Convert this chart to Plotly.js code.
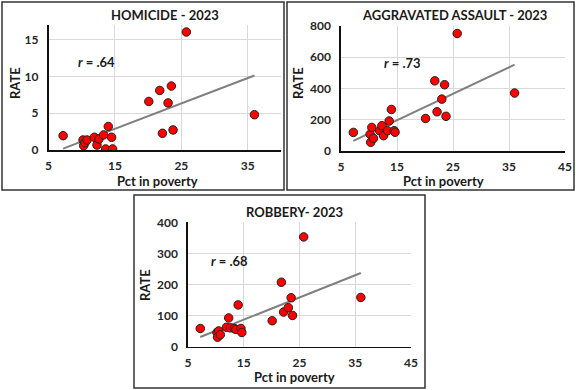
<!DOCTYPE html>
<html><head><meta charset="utf-8">
<script src="https://cdn.plot.ly/plotly-3.0.1.min.js"></script>
<style>html,body{margin:0;padding:0;background:#fff}#c{width:576px;height:390px}</style>
</head><body><div id="c"></div>
<script>
// Percent in poverty (shared by all three panels)
const poverty   = [7.2, 10.2, 10.3, 10.5, 10.8, 11.9, 12.3, 12.6, 13.3, 13.6, 14.0, 14.5, 14.65, 20.1, 21.75, 22.15, 23.0, 23.5, 23.75, 25.75, 36.0];
const homicide  = [1.95, 1.36, 0.59, 1.0, 1.36, 1.73, 0.68, 1.5, 2.05, 0.14, 3.2, 1.73, 0.14, 6.6, 8.1, 2.27, 6.4, 8.7, 2.73, 16.05, 4.8];
const aggAssault= [119, 107, 56, 151, 81, 130, 162, 98, 130, 192, 266, 130, 120, 208, 449, 251, 332, 424, 222, 752, 371];
const robbery   = [58, 45, 30, 50, 38, 62, 92, 60, 58, 55, 134, 58, 45, 83, 207, 111, 125, 157, 100, 353, 158];
const titles = ["HOMICIDE - 2023", "AGGRAVATED ASSAULT - 2023", "ROBBERY- 2023"];
const rLabels = [".64", ".73", ".68"];

const W = 576, H = 390;
const px = v => v / W, py = v => 1 - v / H;

function fit(x, y) {
  const n = x.length;
  const mx = x.reduce((a, b) => a + b, 0) / n, my = y.reduce((a, b) => a + b, 0) / n;
  let sxy = 0, sxx = 0;
  for (let i = 0; i < n; i++) { sxy += (x[i] - mx) * (y[i] - my); sxx += (x[i] - mx) ** 2; }
  const b = sxy / sxx, a = my - b * mx;
  const x0 = Math.min(...x), x1 = Math.max(...x);
  return { x: [x0, x1], y: [a + b * x0, a + b * x1] };
}

const series = [homicide, aggAssault, robbery];
const traces = [];
series.forEach((s, i) => {
  const xa = i === 0 ? 'x' : 'x' + (i + 1), ya = i === 0 ? 'y' : 'y' + (i + 1);
  const f = fit(poverty, s);
  traces.push({ x: f.x, y: f.y, xaxis: xa, yaxis: ya, mode: 'lines', type: 'scatter',
    line: { color: '#7f7f7f', width: 2 }, hoverinfo: 'skip', showlegend: false });
  traces.push({ x: poverty, y: s, xaxis: xa, yaxis: ya, mode: 'markers', type: 'scatter',
    marker: { color: '#ff0000', size: 8.5, line: { color: '#222', width: 1 } }, showlegend: false });
});

const fnt = { family: 'Lato, "Open Sans", sans-serif', size: 12, color: '#262626' };
function xax(domain, range) {
  return { domain, range, tick0: 5, dtick: 10, showgrid: true, gridcolor: '#d9d9d9', gridwidth: 1,
    showline: true, linecolor: '#111', linewidth: 1.6, zeroline: false, ticks: '',
    tickfont: Object.assign({}, fnt, { weight: 'bold' }), ticklabelstandoff: 4, fixedrange: true };
}
function yax(domain, range, dtick, anchor) {
  return { domain, range, tick0: 0, dtick, anchor, showgrid: true, gridcolor: '#d9d9d9', gridwidth: 1,
    showline: true, linecolor: '#111', linewidth: 1.6, zeroline: false, ticks: '',
    tickfont: Object.assign({}, fnt, { weight: 'bold' }), ticklabelstandoff: 6, fixedrange: true };
}

const layout = {
  width: W, height: H, margin: { l: 0, r: 0, t: 0, b: 0 },
  paper_bgcolor: '#fff', plot_bgcolor: '#fff', showlegend: false,
  xaxis:  Object.assign(xax([px(48.5), px(281)], [5, 40]), { anchor: 'y' }),
  yaxis:  yax([py(150), py(25)], [0, 17], 5, 'x'),
  xaxis2: Object.assign(xax([px(341), px(565)], [5, 45]), { anchor: 'y2' }),
  yaxis2: yax([py(151), py(26)], [0, 800], 200, 'x2'),
  xaxis3: Object.assign(xax([px(188), px(411)], [5, 45]), { anchor: 'y3' }),
  yaxis3: yax([py(346.5), py(222.3)], [0, 400], 100, 'x3'),
  shapes: [
    { type: 'rect', xref: 'paper', yref: 'paper', x0: px(2), x1: px(284), y0: py(190), y1: py(2), line: { color: '#333', width: 1.5 } },
    { type: 'rect', xref: 'paper', yref: 'paper', x0: px(287), x1: px(574), y0: py(190), y1: py(2), line: { color: '#333', width: 1.5 } },
    { type: 'rect', xref: 'paper', yref: 'paper', x0: px(134), x1: px(425), y0: py(388), y1: py(195), line: { color: '#333', width: 1.5 } }
  ],
  annotations: []
};

const titleFont = Object.assign({}, fnt, { size: 13, weight: 'bold', color: '#1a1a1a' });
const axFont = Object.assign({}, fnt, { size: 13, weight: 'bold', color: '#1a1a1a' });
const titlePos = [[165, 15], [454, 15], [294, 212]];
const xtPos = [[157, 181], [443, 181], [294, 377]];
const ytPos = [[15, 83], [298, 83], [145, 285]];
titlePos.forEach((p, i) => {
  layout.annotations.push({ xref: 'paper', yref: 'paper', x: px(p[0]), y: py(p[1]), text: titles[i], showarrow: false, font: titleFont, xanchor: 'center', yanchor: 'middle' });
  layout.annotations.push({ xref: 'paper', yref: 'paper', x: px(xtPos[i][0]), y: py(xtPos[i][1]), text: 'Pct in poverty', showarrow: false, font: axFont, xanchor: 'center', yanchor: 'middle' });
  layout.annotations.push({ xref: 'paper', yref: 'paper', x: px(ytPos[i][0]), y: py(ytPos[i][1]), text: 'RATE', textangle: -90, showarrow: false, font: axFont, xanchor: 'center', yanchor: 'middle' });
});
const rPos = [['x', 'y', 12.3, 12.0], ['x2', 'y2', 16.0, 560], ['x3', 'y3', 12.5, 276]];
rPos.forEach((p, i) => {
  layout.annotations.push({ xref: p[0], yref: p[1], x: p[2], y: p[3], text: '<i>r</i> = ' + rLabels[i], showarrow: false,
    font: Object.assign({}, fnt, { size: 13, weight: 'bold', color: '#1a1a1a' }), xanchor: 'center', yanchor: 'middle' });
});

Plotly.newPlot('c', traces, layout, { staticPlot: true, displayModeBar: false });
</script></body></html>
